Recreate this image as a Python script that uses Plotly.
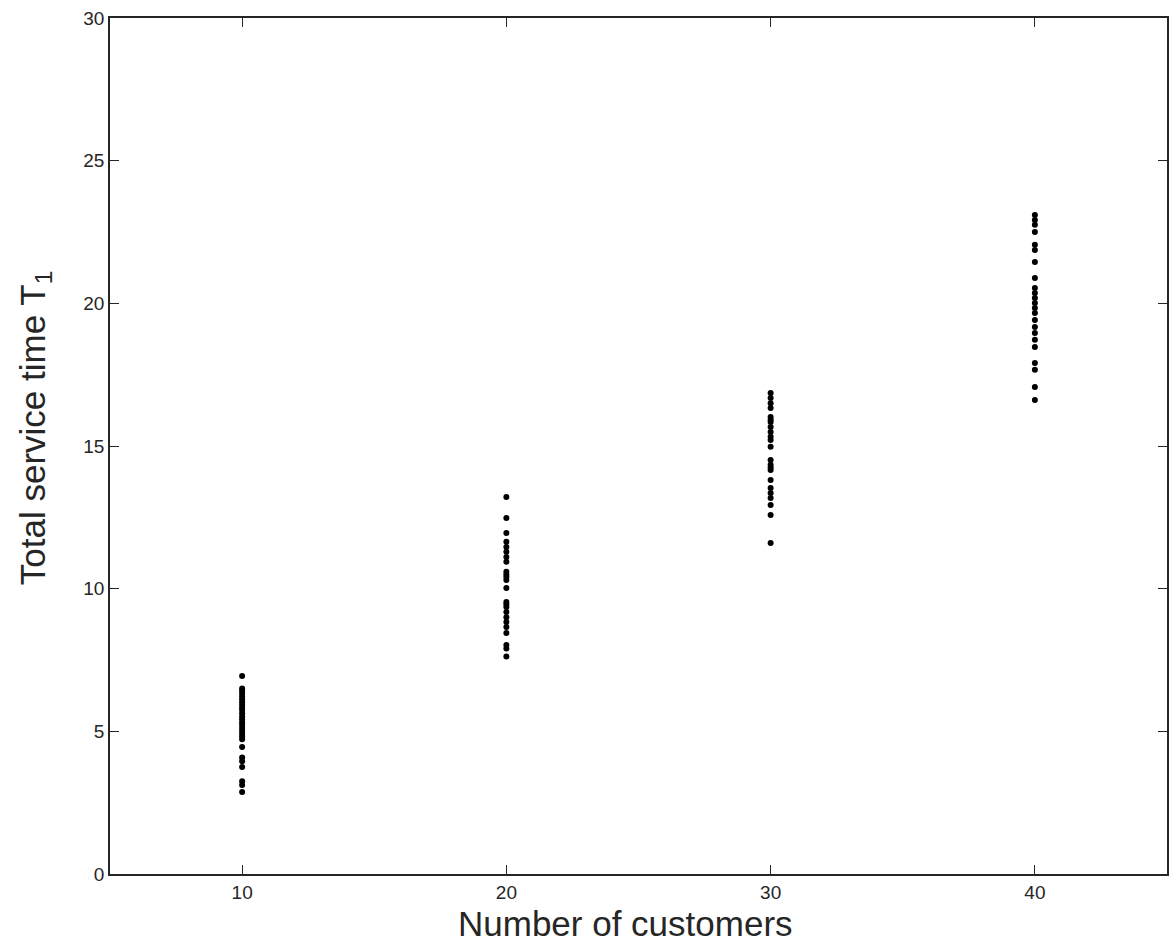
import plotly.graph_objects as go

# Sampled total service times for each customer count
customers = [10, 20, 30, 40]

t_10 = [6.94, 6.50, 6.42, 6.33, 6.22, 6.12, 6.02, 5.92, 5.83, 5.75, 5.63, 5.52,
        5.42, 5.32, 5.22, 5.12, 5.02, 4.92, 4.82, 4.72, 4.45, 4.08, 3.95, 3.75,
        3.25, 3.12, 2.87]
t_20 = [13.21, 12.48, 11.95, 11.64, 11.46, 11.29, 11.11, 10.94, 10.59, 10.50,
        10.41, 10.30, 10.02, 9.53, 9.45, 9.36, 9.18, 9.00, 8.83, 8.66, 8.45,
        8.03, 7.90, 7.62]
t_30 = [16.86, 16.68, 16.50, 16.33, 16.02, 15.92, 15.84, 15.67, 15.49, 15.32,
        15.21, 14.97, 14.51, 14.34, 14.25, 14.16, 13.81, 13.53, 13.35, 13.18,
        12.93, 12.58, 11.60]
t_40 = [23.10, 22.92, 22.75, 22.50, 22.05, 21.87, 21.45, 20.89, 20.54, 20.36,
        20.19, 20.01, 19.84, 19.66, 19.42, 19.17, 18.96, 18.72, 18.47, 17.91,
        17.67, 17.07, 16.61]

groups = [t_10, t_20, t_30, t_40]

xs, ys = [], []
for n, vals in zip(customers, groups):
    xs += [n] * len(vals)
    ys += vals

fig = go.Figure(
    go.Scatter(
        x=xs, y=ys, mode="markers",
        marker=dict(symbol="circle", size=6, color="black"),
        showlegend=False,
    )
)

FONT = "Liberation Sans, Arial, sans-serif"
TITLE_FONT = dict(family=FONT, size=35, color="#262626")

axis_common = dict(
    showline=True, linecolor="#262626", linewidth=1.5, mirror="ticks",
    ticks="inside", ticklen=9, tickwidth=1, tickcolor="#262626",
    showgrid=False, zeroline=False,
    tickfont=dict(family=FONT, size=19, color="#262626"),
)

fig.update_layout(
    width=1169, height=942,
    margin=dict(l=110, r=0, t=18, b=68),
    paper_bgcolor="white", plot_bgcolor="white",
    xaxis=dict(range=[5, 45], tickvals=customers,
               ticktext=["10", "20", "30", "40"], **axis_common),
    yaxis=dict(range=[0, 30], tickvals=[0, 5, 10, 15, 20, 25, 30], **axis_common),
    annotations=[
        dict(text="Number of customers", xref="paper", yref="paper",
             x=0.488, y=-0.058, xanchor="center", yanchor="middle",
             showarrow=False, font=TITLE_FONT),
        dict(text="Total service time T<sub>1</sub>", xref="paper", yref="paper",
             x=-0.0708, y=0.521, xanchor="center", yanchor="middle",
             textangle=-90, showarrow=False, font=TITLE_FONT),
    ],
)

fig.write_html("out.html")
